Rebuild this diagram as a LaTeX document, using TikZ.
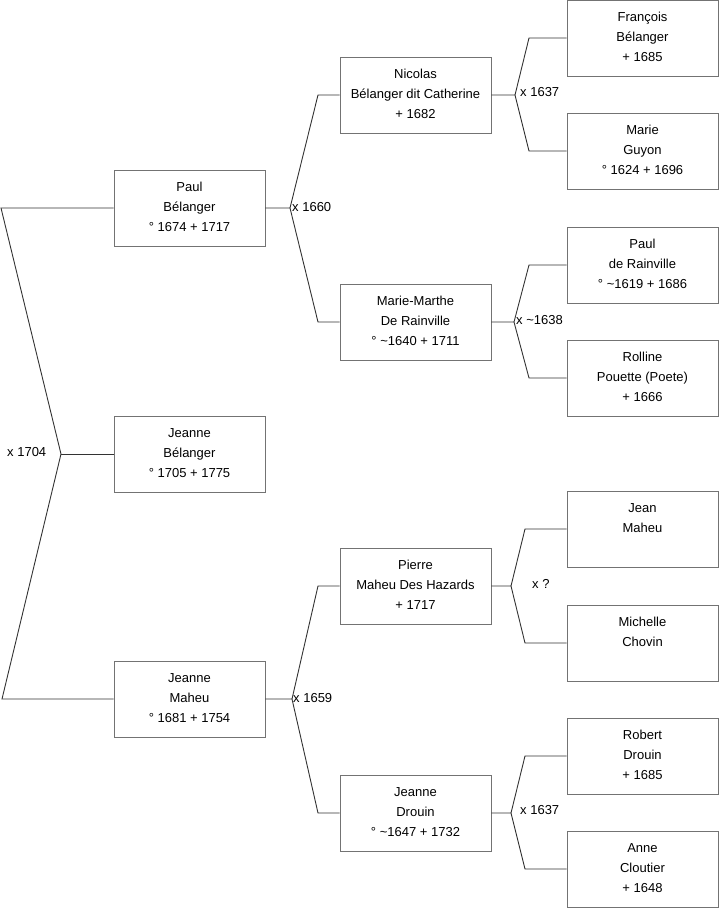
\documentclass[tikz,border=0pt]{standalone}
\usepackage{fontspec}
\setmainfont{Liberation Sans}
\usepackage{tikz}

\tikzset{
  person/.style={draw=black!55, line width=0.9pt, minimum width=151pt, minimum height=76pt,
    inner sep=0pt, align=center, text height=48pt, text depth=2pt,
    font=\fontsize{13}{20}\selectfont},
  link/.style={draw=black!80, line width=0.9pt},
  wed/.style={font=\fontsize{13}{14}\selectfont, inner sep=0pt}
}

\begin{document}
\begin{tikzpicture}[x=1pt,y=-1pt]
  \useasboundingbox (0,0) rectangle (719,908);

  % generation 1 and 2
  \node[person] (paul)     at (189.5,208) {Paul\\Bélanger\\° 1674 + 1717};
  \node[person] (jbelanger) at (189.5,454) {Jeanne\\Bélanger\\° 1705 + 1775};
  \node[person] (jmaheu)   at (189.5,699) {Jeanne\\Maheu\\° 1681 + 1754};

  % generation 3
  \node[person] (nicolas)  at (415.5,95)  {Nicolas\\Bélanger dit Catherine\\+ 1682};
  \node[person] (mmarthe)  at (415.5,322) {Marie-Marthe\\De Rainville\\° \textasciitilde1640 + 1711};
  \node[person] (pierre)   at (415.5,586) {Pierre\\Maheu Des Hazards\\+ 1717};
  \node[person] (jdrouin)  at (415.5,813) {Jeanne\\Drouin\\° \textasciitilde1647 + 1732};

  % generation 4
  \node[person] (francois) at (642.5,38)  {François\\Bélanger\\+ 1685};
  \node[person] (mguyon)   at (642.5,151) {Marie\\Guyon\\° 1624 + 1696};
  \node[person] (prainville) at (642.5,265) {Paul\\de Rainville\\° \textasciitilde1619 + 1686};
  \node[person] (rolline)  at (642.5,378) {Rolline\\Pouette (Poete)\\+ 1666};
  \node[person] (jeanm)    at (642.5,529) {Jean\\Maheu\\~};
  \node[person] (michelle) at (642.5,643) {Michelle\\Chovin\\~};
  \node[person] (robert)   at (642.5,756) {Robert\\Drouin\\+ 1685};
  \node[person] (anne)     at (642.5,869) {Anne\\Cloutier\\+ 1648};

  % x 1704
  \coordinate (w1704) at (61,454);
  \coordinate (a1704) at (1,208);
  \coordinate (b1704) at (2,699);
  \draw[link] (paul.west) -- (a1704) -- (w1704) -- (b1704) -- (jmaheu.west);
  \draw[link] (w1704) -- (jbelanger.west);
  \node[wed, anchor=west] (l1704) at (7,452) {x 1704};

  % x 1660
  \coordinate (w1660) at (290,208);
  \draw[link] (paul.east) -- (w1660) -- (318,95) -- (nicolas.west);
  \draw[link] (w1660) -- (318,322) -- (mmarthe.west);
  \node[wed, anchor=west] (l1660) at (292,207) {x 1660};

  % x 1637 (top)
  \coordinate (w1637a) at (515,95);
  \draw[link] (nicolas.east) -- (w1637a) -- (529,38) -- (francois.west);
  \draw[link] (w1637a) -- (529,151) -- (mguyon.west);
  \node[wed, anchor=west] (l1637a) at (520,92) {x 1637};

  % x ~1638
  \coordinate (w1638) at (514,322);
  \draw[link] (mmarthe.east) -- (w1638) -- (529,265) -- (prainville.west);
  \draw[link] (w1638) -- (529,378) -- (rolline.west);
  \node[wed, anchor=west] (l1638) at (516,320) {x \textasciitilde1638};

  % x ?
  \coordinate (wq) at (511,586);
  \draw[link] (pierre.east) -- (wq) -- (525,529) -- (jeanm.west);
  \draw[link] (wq) -- (525,643) -- (michelle.west);
  \node[wed, anchor=west] (lq) at (532,584) {x ?};

  % x 1659
  \coordinate (w1659) at (292,699);
  \draw[link] (jmaheu.east) -- (w1659) -- (318,586) -- (pierre.west);
  \draw[link] (w1659) -- (318,813) -- (jdrouin.west);
  \node[wed, anchor=west] (l1659) at (293,698) {x 1659};

  % x 1637 (bottom)
  \coordinate (w1637b) at (511,813);
  \draw[link] (jdrouin.east) -- (w1637b) -- (525,756) -- (robert.west);
  \draw[link] (w1637b) -- (525,869) -- (anne.west);
  \node[wed, anchor=west] (l1637b) at (520,810) {x 1637};
\end{tikzpicture}
\end{document}
